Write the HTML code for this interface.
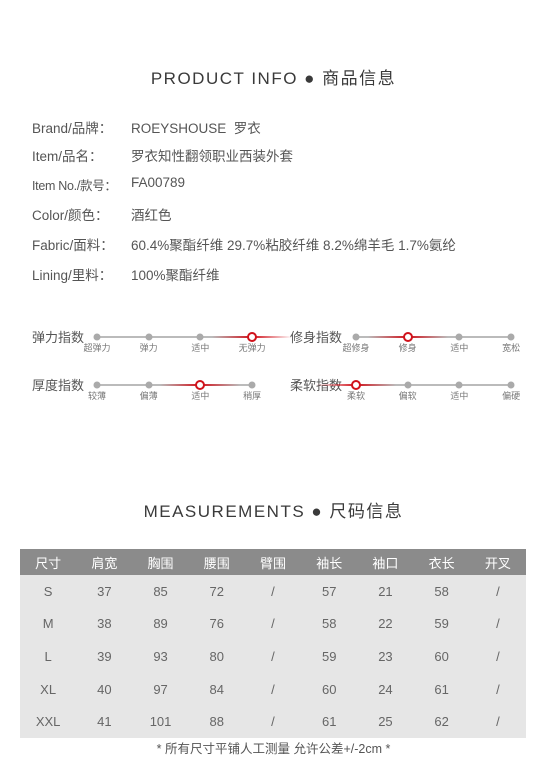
<!DOCTYPE html>
<html><head><meta charset="utf-8"><style>
body{margin:0;width:547px;height:760px;background:#fff;position:relative;overflow:hidden;font-family:"Liberation Sans","Noto Sans CJK SC",sans-serif;color:#555}
.a{position:absolute;white-space:nowrap}
.title{font-size:17px;letter-spacing:1.5px;color:#3a3a3a;left:0;width:547px;text-align:center}
.lab{font-size:13.5px;left:32px;color:#555}
.val{font-size:13.5px;left:131px;color:#555}
.sl{font-size:13px;color:#555}
.tk{font-size:9px;color:#777;transform:translateX(-50%)}
.dot{width:7px;height:7px;border-radius:50%;background:#aaa;transform:translate(-50%,-50%)}
.sel{width:6px;height:6px;border:2px solid #d0121b;background:#fff;border-radius:50%;transform:translate(-50%,-50%)}
.tr{height:2px;background:#bbb;transform:translateY(-50%)}
table{position:absolute;left:20px;top:549px;width:506px;border-collapse:collapse;font-size:13px}
th{background:#8b8b8b;color:#fff;font-weight:normal;height:26px;padding:0}
td{background:#e6e6e6;color:#666;text-align:center;height:32.6px;padding:0}
</style></head><body>
<div class="a title" style="top:64px">PRODUCT INFO ● 商品信息</div>
<div class="a lab" style="top:117px">Brand/品牌：</div><div class="a val" style="top:117px">ROEYSHOUSE &nbsp;罗衣</div>
<div class="a lab" style="top:145px">Item/品名：</div><div class="a val" style="top:145px">罗衣知性翻领职业西装外套</div>
<div class="a lab" style="top:175px;font-size:12.5px;letter-spacing:-0.3px">Item No./款号：</div><div class="a val" style="top:175px">FA00789</div>
<div class="a lab" style="top:204px">Color/颜色：</div><div class="a val" style="top:204px">酒红色</div>
<div class="a lab" style="top:234px">Fabric/面料：</div><div class="a val" style="top:234px">60.4%聚酯纤维 29.7%粘胶纤维 8.2%绵羊毛 1.7%氨纶</div>
<div class="a lab" style="top:264px">Lining/里料：</div><div class="a val" style="top:264px">100%聚酯纤维</div>
<div id="sliders"></div>
<div class="a title" style="top:497px">MEASUREMENTS ● 尺码信息</div>
<table><tbody id="tb"></tbody></table>
<div class="a" style="top:738px;left:0;width:547px;text-align:center;font-size:12.5px;color:#555">* 所有尺寸平铺人工测量 允许公差+/-2cm *</div>
<script>
const sliders=[["弹力指数",32,97,337,["超弹力","弹力","适中","无弹力"],3],["修身指数",290,356,337,["超修身","修身","适中","宽松"],1],["厚度指数",32,97,385,["较薄","偏薄","适中","稍厚"],2],["柔软指数",290,356,385,["柔软","偏软","适中","偏硬"],0]];
const heads=["尺寸","肩宽","胸围","腰围","臂围","袖长","袖口","衣长","开叉"];
const rows=[["S",37,85,72,"/",57,21,58,"/"],["M",38,89,76,"/",58,22,59,"/"],["L",39,93,80,"/",59,23,60,"/"],["XL",40,97,84,"/",60,24,61,"/"],["XXL",41,101,88,"/",61,25,62,"/"]];
const S=document.getElementById('sliders');
sliders.forEach(s=>{
 const [name,lx,x0,y,ticks,sel]=s;const step=51.7;
 let h=`<div class="a sl" style="left:${lx}px;top:${y-10}px">${name}</div>`;
 h+=`<div class="a tr" style="left:${x0}px;top:${y}px;width:${step*3}px"></div>`;
 const sx=x0+sel*step;
 h+=`<div class="a tr" style="left:${sx-40}px;top:${y}px;width:80px;background:linear-gradient(90deg,rgba(208,18,27,0),#d0121b 50%,rgba(208,18,27,0))"></div>`;
 ticks.forEach((t,i)=>{const x=x0+i*step;
  h+=`<div class="a ${i==sel?'sel':'dot'}" style="left:${x}px;top:${y}px"></div>`;
  h+=`<div class="a tk" style="left:${x}px;top:${y+4}px">${t}</div>`;});
 S.insertAdjacentHTML('beforeend',h);
});
const tb=document.getElementById('tb');
tb.insertAdjacentHTML('beforeend','<tr>'+heads.map(h=>`<th>${h}</th>`).join('')+'</tr>');
rows.forEach(r=>tb.insertAdjacentHTML('beforeend','<tr>'+r.map(v=>`<td>${v}</td>`).join('')+'</tr>'));
</script>
</body></html>
